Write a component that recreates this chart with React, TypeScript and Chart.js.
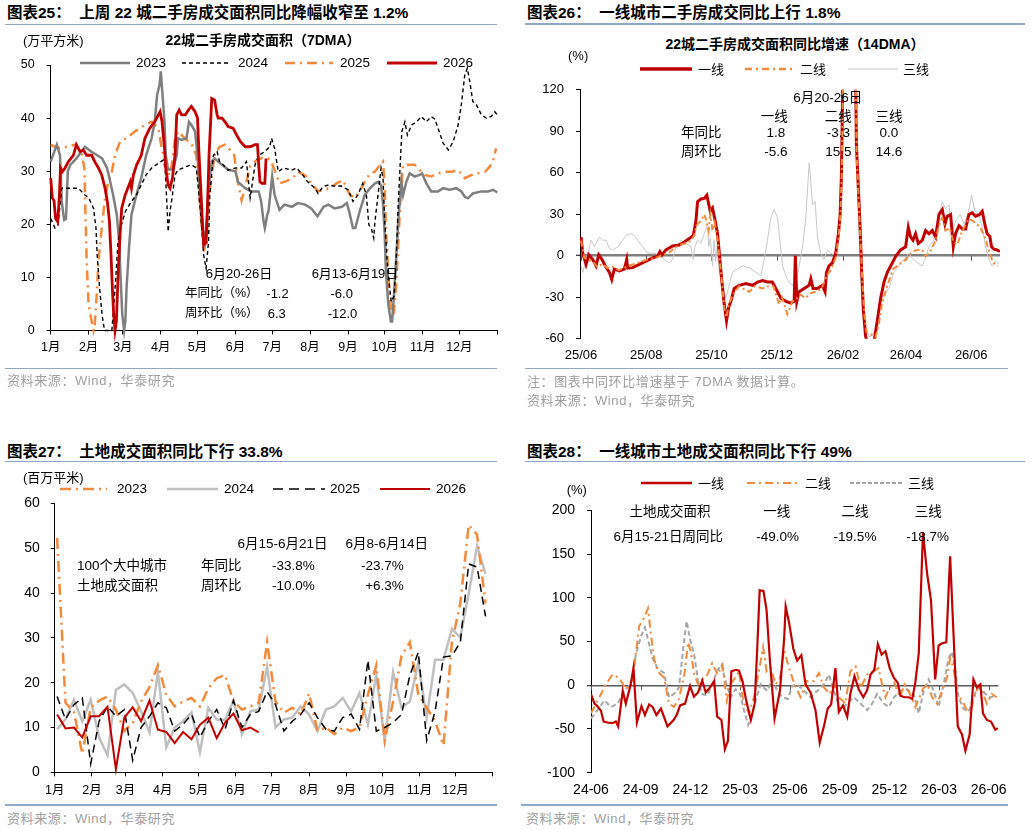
import React, { useEffect, useRef } from "react";
import { Chart, registerables } from "chart.js";

Chart.register(...registerables);

const FONT = "'Liberation Sans', Arial, 'Noto Sans CJK SC', sans-serif";
const RED = "#C00000";
const ORANGE = "#F28A3C";
const LINE_BLUE = "#8EA8C8";

// ---------- 图表25：22城二手房成交面积（7DMA），万平方米；[day of year, value]
const area2023: [number, number][] = [
  [0, 31.8], [5, 35], [7.6, 33], [9, 24.3], [11, 20.8], [12.5, 21], [14, 30], [16, 31.2], [21, 32.4], [28, 34.6],
  [33, 33.7], [38, 33], [42, 32.4], [46, 30.6], [48, 28.7], [51, 25.5], [54, 21.8], [56, 16.7], [57, 10.5], [58.5, 3],
  [60, 0], [61, 1.7], [62, 8], [64, 15.5], [66, 21.8], [70, 25.5], [74, 28.7], [78, 33], [82.5, 36.2], [85, 39.3],
  [87, 44.4], [89, 46.3], [90, 48.8], [91, 45.6], [93, 39.3], [94, 33], [96, 30.3], [100, 30.3], [103, 33], [104, 36.2],
  [107, 35.9], [111, 36.2], [113, 39.3], [115, 38.7], [118, 37.5], [120, 33], [122, 25.5], [124, 19.3], [126, 16.7], [127.5, 20.5],
  [129, 26.8], [131.6, 31.8], [134, 32.4], [140, 31.2], [145, 30.3], [151, 30], [153, 28], [159, 26.8], [164, 26.2], [170, 26.2],
  [172, 24.3], [174, 20.5], [175, 19.3], [177, 21.8], [178, 22.4], [181, 29], [183, 25.5], [187, 22.7], [191, 23.7], [197, 23.3],
  [202, 24], [208, 23.7], [213, 23], [218, 21.5], [223, 23.3], [227, 23.7], [232, 23], [238, 23.3], [242, 24], [244, 22.4],
  [247, 19.3], [249, 19.3], [252.5, 22.4], [256.6, 25.5], [261, 26.8], [265, 27.7], [267.5, 28], [270, 27.4], [271.6, 23.7], [273, 18],
  [274, 11.1], [276, 4.8], [278, 1.7], [279, 1.7], [280.6, 6.7], [282.5, 14.2], [284.4, 21.8], [286.6, 28], [288, 25.5], [290.7, 28],
  [293.4, 29.6], [297.5, 29], [301.6, 29.3], [303.5, 29.6], [307, 27.7], [311, 26.2], [316.6, 26.2], [320.7, 26.8], [326, 26.5], [331.6, 26.8],
  [335.6, 26.2], [338.4, 25.2], [341, 24.9], [345, 25.8], [352, 26.2], [357.5, 26.2], [361.5, 26.5], [365, 26],
];
const area2024: [number, number][] = [
  [0, 21.1], [3.5, 19.3], [6, 19.9], [9, 26.8], [14, 26.8], [22.6, 26.8], [28, 25.5], [31, 25], [35, 23], [37, 19.3],
  [38, 14.2], [40, 7.9], [42, 2.9], [44, 0], [50, 0], [53, 9.2], [55, 16.7], [57, 19.3], [61, 22.4], [66, 24.3],
  [70, 25.5], [74, 27.4], [78, 29.3], [82.5, 30.6], [88, 31.5], [92, 32.1], [93.5, 30.6], [95, 23.7], [96, 18.6], [97.5, 22.4],
  [99.5, 25.5], [101.6, 29.3], [104, 30.2], [110, 30.8], [115, 31.2], [119, 30.6], [120.7, 26.8], [123, 20.5], [125, 14.2], [127, 11.7],
  [129, 16.7], [130, 25.5], [133, 33], [136, 33.7], [138, 31.8], [141, 31.2], [145, 30.2], [151, 30.6], [156, 30.6], [160, 31.8],
  [163, 25], [167, 31.2], [170, 33], [175, 33.7], [179, 34.6], [180.5, 36.2], [183, 34.3], [186, 29.9], [190, 30.6], [197, 30.2],
  [201, 30.6], [205, 29.6], [210, 28], [216, 26.8], [218.5, 25.8], [222.6, 27.1], [227, 27.4], [232, 27.2], [237.5, 27.2], [243, 26.5],
  [247, 24.3], [251, 25.5], [255, 27.7], [258, 25.5], [260, 19.9], [262, 19.3], [264, 17.4], [265, 20.5], [267.5, 25.5], [270, 30.6],
  [271.6, 28.7], [273, 20.5], [275, 13], [277, 8], [278.4, 5.4], [280.6, 6.5], [282.5, 14.2], [284, 23.7], [286, 33], [287, 37.5],
  [289.5, 39.3], [291.5, 36.8], [295, 38.7], [299, 39.3], [303, 40.3], [307, 39.3], [311, 40.3], [314, 39.8], [316.6, 38.1], [320.7, 35.3],
  [325, 34], [329, 35.6], [333, 38.7], [335.6, 42.5], [338.4, 48.1], [340.5, 49.4], [342.5, 46.9], [345, 43.1], [348, 42.5], [352, 40.6],
  [356, 40], [360, 40.3], [363, 41.2], [365, 40.6],
];
const area2025: [number, number][] = [
  [0, 35], [3.5, 34.6], [8, 34.3], [13, 34.6], [20, 35], [25, 33.7], [27.5, 30.6], [28.6, 20.5], [29.4, 13], [31, 4.8],
  [33.5, 1.7], [35, 0], [36, 1], [37.6, 6.7], [39, 13], [41.7, 19.3], [44.4, 24.9], [47, 28], [50, 29.9], [52.6, 33],
  [56.7, 35.6], [62, 36.2], [69, 37.5], [77, 38.7], [82.6, 39.3], [88, 38.1], [90.7, 34.3], [93.5, 31.8], [96.7, 29.3], [99, 31.2],
  [101.6, 36.2], [104, 37.5], [107, 36.8], [111, 35.9], [115, 35.2], [119, 33], [121.5, 25.5], [123.4, 19.3], [125.6, 15.5], [127.5, 16.7],
  [129.4, 24.9], [131.6, 29.3], [134, 33], [138, 34.6], [142.5, 35], [146.6, 34], [150, 33], [153, 28], [156, 24.5], [159, 27],
  [163, 31], [168, 32], [173, 32.5], [177.6, 32.4], [180, 32], [187, 27.7], [191, 28], [198, 28.7], [202, 29.9], [208, 29.2],
  [213, 27.7], [218.5, 26.2], [223, 26.5], [228, 26.8], [233.5, 27.7], [239, 28.3], [244, 25.8], [248, 24.9], [252.5, 26.2], [256.6, 28],
  [261, 29.6], [265, 29.9], [269, 31.2], [271.6, 31.8], [273, 26.8], [274, 19.3], [275.7, 11.7], [277, 6.7], [279, 2.3], [280.6, 3.6],
  [282.5, 9.2], [284.4, 18], [286, 25.5], [288, 31.2], [292, 31.2], [297.5, 31.2], [301.6, 30.2], [305.7, 29.3], [311, 29], [316.6, 29.6],
  [322, 29.9], [327.5, 29.9], [333, 30.2], [338.4, 28.7], [344, 29.3], [349, 29.6], [355, 29.9], [359, 30.9], [361.5, 31.8], [364, 34.3],
];
const area2026: [number, number][] = [
  [0, 28.7], [1.4, 24.9], [2.7, 24.5], [4, 21.1], [5.7, 20.5], [7, 24.9], [8, 30.6], [9.5, 29.9], [11.7, 30.6], [14.4, 31.8],
  [18.5, 33], [21, 35], [24, 33.7], [26.7, 34], [29.4, 33], [33.5, 33], [36, 31.8], [39, 30.6], [41.7, 29.3], [44.4, 26.8],
  [46.3, 24.3], [48, 20.5], [49.3, 14.2], [50.4, 7.9], [51.5, 2.9], [52.6, 0], [53.7, 1.7], [55.3, 11.7], [56.7, 18], [58, 23],
  [60.8, 25.5], [63, 26.8], [65, 28], [66, 26.8], [67.6, 29.3], [70.3, 31.2], [74, 33], [77, 36.2], [81, 38.1], [85, 39.3],
  [89.4, 41.2], [91, 39.3], [93, 34.3], [94, 30.6], [96, 27.4], [97.5, 26.8], [99.5, 28.7], [101.6, 33], [103, 40.6], [105, 41.5],
  [107, 40.6], [110, 40.6], [112.5, 41.5], [115, 42.2], [118, 41.2], [120, 40], [121, 34.3], [122.6, 26.8], [124, 20.5], [125, 16.1],
  [127, 16.5], [128, 22.4], [129.4, 33], [131, 40.6], [131.6, 43.7], [134, 43.4], [136, 40.6], [137, 40], [140, 40], [142.5, 39.3],
  [145, 38.4], [149, 38.1], [152, 36.8], [155, 35.6], [159, 34.6], [163, 34.6], [167, 35], [169, 35], [170, 31.2], [171, 28],
  [172.5, 27.7], [175, 27.7], [176, 32.4],
];
const monthStartDays = [0, 31, 59, 90, 120, 151, 181, 212, 243, 273, 304, 334, 365];
const monthLabels = ["1月", "2月", "3月", "4月", "5月", "6月", "7月", "8月", "9月", "10月", "11月", "12月", ""];

// ---------- 图表26：22城二手房成交面积同比增速（14DMA），%；[days since 2025-06-01, value]
const tier1Yoy: [number, number][] = [
  [0, 13.5], [1.6, 1.9], [4.7, -6.3], [7.2, 0.7], [11, -2.8], [14, -7.4], [16.5, 0.7], [19.6, -2.8], [22.7, -7.4], [26.5, -12],
  [28.7, -17.2], [31.1, -9.7], [35.8, -10.9], [40.5, -9.7], [42.7, -2.8], [43.6, -9], [48.3, -8.6], [54.5, -6.3], [60.7, -3.9], [67, -1.6],
  [71.6, -0.4], [73.8, 3], [75.7, 0.5], [79.4, 4.2], [85.7, 7], [91.9, 7.7], [96.6, 10], [101.2, 12.4], [105, 14.7], [107.5, 25.2],
  [109, 39.1], [112.1, 41], [115.3, 41.4], [117.7, 43.8], [119.3, 37.9], [120.9, 32.1], [123, 34.5], [125.5, 25.2], [127.7, 15.9], [129.9, -2.8],
  [131.8, -19], [134, -35.3], [136.1, -47], [138, -37.6], [140.2, -33], [143.3, -23.7], [148, -21.4], [154.2, -20.2], [160.4, -21.4], [165.1, -19],
  [169.8, -17.9], [174.4, -19], [179, -19], [183.8, -26], [186.9, -30.7], [191.6, -33], [196.3, -34.2], [199.4, -33], [200.5, 0], [201.9, -33],
  [204, -26], [208.7, -23.7], [213.4, -21.4], [215, -16.7], [217.1, -23.7], [221.2, -23.7], [225.8, -21.4], [228.3, -26], [229.6, -12], [232, -7.4],
  [235.2, -5.1], [238.3, 1.9], [240.8, 15.9], [242.4, 29.8], [243.6, 57.7], [244.5, 104], [245.5, 200], [256, 200], [257.6, 81], [259.5, 48.4],
  [261, 22.8], [262.6, -12], [264.2, -40], [266.3, -58.6], [268.8, -65], [274, -63], [277.2, -47], [280.3, -30.7], [283.5, -19], [286.6, -12],
  [289.7, -7.4], [294.4, -0.4], [299, 4.2], [303.7, 6.5], [306.2, 20.5], [308.4, 13.5], [310.6, 11.2], [313, 15.9], [315.5, 8.9], [319.3, 11.2],
  [322.4, 18.2], [325.5, 15.9], [328.6, 18.2], [331.8, 13.5], [334.9, 29.8], [338, 33.3], [340.5, 22.8], [342.6, 28.6], [345.8, 29.8], [348.3, 6.5],
  [350.4, 15.9], [353.6, 21.7], [356.7, 19.4], [359.8, 19.4], [362.9, 29.8], [366, 31], [369.1, 28.6], [372.9, 29.8], [375.4, 32.1], [377.8, 22.8],
  [380, 15.9], [382.5, 14], [384.1, 6.5], [386.3, 4.7], [389.4, 4.2], [391.9, 3],
];
const tier2Yoy: [number, number][] = [
  [0, 11], [3.1, -1.6], [7, -3], [11, -4], [15, -8], [20, -6], [25, -9], [30, -8], [35, -10.5], [40, -9],
  [45, -7], [50, -6], [55, -4.5], [61, -3], [67, -2], [72, -1], [77, 1], [82, 2], [88, 6], [93, 8],
  [98, 9], [103, 11], [106, 15], [108, 22], [112.1, 25.2], [115.3, 29.8], [117, 26], [119.3, 18.2], [121, 29.8], [123, 18.2],
  [125, 24], [127.7, 12], [130, -5], [132, -20], [134, -38], [136.1, -44.6], [138, -36], [141, -30], [144, -26], [148, -22],
  [152, -24], [157.3, -26], [163, -22], [169.8, -23.7], [175, -22], [180, -22], [185.3, -35.3], [188, -30], [193, -42.3], [197.8, -33],
  [201, -32], [205, -28], [210, -30.7], [215, -27], [220, -26], [225, -24], [230, -14], [234, -10], [238, -2], [240.8, 12],
  [242.4, 25], [243.8, 55], [244.7, 100], [245.6, 200], [256.3, 200], [257.8, 75], [259.8, 40], [261.5, 10], [263, -15], [265, -42],
  [267, -55], [270, -56.3], [275.7, -58.6], [278.5, -50], [281.5, -35], [286.6, -21.4], [292, -9.7], [298, -6], [303.7, -2.8], [308, 1],
  [313, 4], [319.3, 4.2], [322.4, -0.4], [326, 2], [331.8, 11.2], [334.9, 22], [338, 27.5], [341, 18.2], [345, 20], [348.3, 10],
  [352, 8], [356.7, 18.2], [362.9, 26.7], [369.1, 24], [373.8, 20], [377.8, 13.5], [382.4, 1.9], [385.5, -5.1], [390, -7.4],
];
const tier3Yoy: [number, number][] = [
  [0, -7.4], [1.6, -12], [4.7, -3], [9.3, 11.2], [12.5, 6.5], [17.1, 13.5], [20.3, 11.2], [23.4, 11.2], [26, 6], [29.6, 4.2],
  [34.3, 6.5], [39, 11.2], [42, 14.7], [46.7, 15.9], [49.8, 14.7], [53, 11.2], [57.6, 6.5], [62.3, 1.9], [67, 1.9], [73.2, 0.7],
  [77.9, -2.8], [82.5, -5.1], [85.7, -2.8], [88.8, 6.5], [93.5, 11.2], [98.1, 8.9], [102.8, 6.5], [105, -2.8], [106.5, 6.5], [109, 11.2],
  [112, 8.9], [115.3, 15.9], [118.4, 22.8], [119.5, 6.5], [121, 13], [123, -7.4], [124.5, 11.2], [126, -4], [127.5, 8], [129.3, -12],
  [132.4, -21.4], [135.5, -30.7], [138.6, -21.4], [141.7, -12], [146.4, -9.7], [151, -7.4], [157.3, -8.6], [163.5, -12], [168.2, -14.4], [171.3, -2.8],
  [174.4, 11.2], [177.6, 27.5], [180.7, 33.3], [183.8, 27.5], [186, 11.2], [188.5, -7.4], [191.6, -14.4], [194.7, -19], [197.8, -21.4], [202.5, -14.4],
  [207.2, 6.5], [210.3, 27.5], [213.4, 67], [215, 53], [216.5, 36.8], [219, 39.1], [221.2, 13.5], [224.3, 1.9], [227.4, -2.8], [230.5, 4.2],
  [233.6, 1.9], [236.7, 0.7], [239.9, 6.5], [242, 25], [243.5, 60], [244.5, 200], [256.5, 200], [258, 60], [260, 20], [263.2, -35.3],
  [265.7, -49.3], [269.4, -58.6], [272.6, -57.5], [275.7, -51.6], [278.8, -35.3], [283.5, -28.3], [288.1, -23.7], [292.8, -12], [297.5, -7.4], [302.1, -2.8],
  [306.8, 1.9], [310, -2], [314.6, -5.1], [319.3, -7.4], [322, -2], [325.5, 6.5], [330, 11], [334.9, 29.8], [338, 39.1], [341, 34],
  [344.2, 36.8], [347.3, 15.9], [350.4, 25.2], [355, 29.8], [358.2, 22.8], [362, 30], [365.4, 43.8], [368.5, 32.1], [372.2, 29.8], [375.4, 20.5],
  [378.5, 6.5], [381.6, -2.8], [384.7, -7.4], [387.8, -3.9], [391, -6],
];
const yoyTickDays = [0, 61, 122, 183, 245, 304, 365];
const yoyTickLabels = ["25/06", "25/08", "25/10", "25/12", "26/02", "26/04", "26/06"];

// ---------- 图表27：100个大中城市土地成交面积（周度），百万平米
const land2023 = [
  52.3, 15.5, 13.5, 4.1, 14.5, 16, 16.9, 14, 9.2, 11, 15.8, 19, 23.9, 17.3, 14.7, 15.8, 16.6, 14.7, 18.7, 21,
  21.7, 15.8, 14, 14.7, 15.5, 29, 15.8, 13.3, 14.4, 12.9, 17.6, 9.2, 10, 8.5, 10, 9.2, 10, 17.3, 23.9, 7.1,
  15.8, 26, 29, 17.3, 14.4, 11.4, 6, 29, 37.7, 55.2, 53, 37.7,
];
const land2024 = [
  9.6, 11.8, 16.2, 11.4, 16.2, 7.8, 3.8, 18.4, 19.6, 17.7, 13.6, 8.9, 22.4, 5.6, 10, 11.4, 13.4, 4.5, 14.4, 11.8,
  11.7, 16, 8.5, 13.6, 14, 23.5, 10, 11.8, 12.2, 14.7, 12.9, 9.2, 14, 14.7, 16.6, 13.6, 17.7, 10.7, 21.7, 7.1,
  22.3, 14.5, 15.8, 24.6, 12.2, 25.1, 25.1, 32, 30.1, 39.9, 50.5, 44.3,
];
const land2025 = [
  16.9, 11.8, 15.1, 16.6, 1.9, 11.4, 14.7, 12.5, 14, 2.7, 10, 12.5, 15.5, 14.4, 9.2, 10.7, 12.9, 7.8, 11.4, 14,
  9.6, 16, 10, 12.9, 13.6, 18, 15.1, 9.2, 11.4, 12.9, 15.5, 12.2, 9.6, 9.2, 12.2, 13, 9.6, 25, 9.2, 10,
  11.1, 12.9, 21.7, 26.8, 7.1, 13.6, 25.7, 26, 29, 46.5, 45.8, 34.8,
];
const land2026 = [
  12.9, 9.8, 10, 7.8, 12.5, 12.5, 14.6, 0.7, 12.2, 14.5, 11.4, 16, 9.5, 9, 6.5, 9, 7.4, 10.6, 12.2, 7.6,
  11.1, 13.1, 9.4, 10, 8.9,
];
// 第 k 周对应的年内天数（周中）
const weekToDay = (k: number) => 2 + 7 * k;

// ---------- 图表28：一线/二线/三线城市土地成交面积同比，%；[weeks since 2024-06, value]
const tier1Land: [number, number][] = [
  [0, -10], [0.9, -21], [1.7, -24], [2.6, -29], [3.3, -41.5], [4.3, -42.6], [5.6, -43.4], [6.5, -41.5], [7.1, -47], [8.3, -6.3],
  [9.1, -21], [10.4, 1.1], [11.1, 19.6], [12, -42.6], [13.2, -24], [14.1, -34], [15.2, -21.9], [16.1, -24.8], [17.1, -34], [18.3, -26.7],
  [20, -47], [21.6, -39.7], [22.4, -34], [23.3, -23], [24.6, -21], [25.9, -0.7], [26.9, -13], [28, -8.2], [29.1, 5.5], [30, -8.2],
  [31.1, -2.6], [32.2, 4.8], [33, -36], [34.1, -39.7], [35, -73], [35.8, -63.7], [36.7, 15.9], [37.8, 17.7], [38.7, 16.6], [39.6, 4.8],
  [40.5, -15.6], [41.8, -39.7], [42.8, -21], [43.5, 45.5], [44.1, 108.5], [45.1, 107.8], [45.9, 86.3], [46.8, 27], [48, -37.8], [49.4, -6.3],
  [50.5, 53], [50.9, 90], [51.8, 71.5], [52.9, 41.8], [53.9, 28.1], [55, 34.4], [56.1, 1.1], [57.4, -8.2], [58.7, -28.5], [59.8, -65.6],
  [60.9, -47], [61.9, -26.7], [62.8, -21.9], [63.9, 19.6], [64.8, -30.4], [65.9, -23], [67, -36], [67.8, -10], [68.9, 10.4], [70, -4.5],
  [71.2, -13.7], [72.2, -5.6], [73.1, 12.2], [74.1, 17.7], [75, 47], [76, 35], [77, 38.9], [78.1, 19.6], [79.2, 8.5], [80.2, 3],
  [80.9, -11.9], [82, -13.7], [83.1, -13.7], [84, -15.6], [84.8, 3], [85.7, 36.3], [86.8, 175], [87.9, 127], [88.9, 97.4], [90, 6.6],
  [90.9, 45.5], [91.8, 48.1], [92.9, 49.2], [93.9, 147.4], [95, 38.1], [95.9, -47], [97, -56.3], [97.9, -74.8], [99, -56.3], [100, 6.6],
  [100.9, -2.6], [101.8, 1.1], [102.5, -32.2], [103.5, -39.7], [104.6, -41.5], [105.7, -50.8], [106.4, -49],
];
const tier2Land: [number, number][] = [
  [0, -32], [2.2, -13.7], [3.9, 1.1], [5.6, 12.2], [7.4, 8.5], [9.1, -4.5], [10.9, 6.6], [12.6, 67.7], [13.9, 77], [14.9, 88],
  [15.6, 60.3], [16.5, 30.7], [17.4, 15.9], [19.1, 8.5], [20.4, -21], [21.7, -24.8], [23, -15.6], [24.4, 12.2], [25.4, 49.2], [26.1, 38.1],
  [27, 12.2], [28, 1.1], [29.1, 6.6], [30.4, 12.2], [31.7, 25.2], [33.1, 12.2], [34.4, 23.3], [35.5, -17.4], [36.5, 1.1], [37.6, 8],
  [38.7, 15.9], [39.8, -17.4], [41.3, -32.2], [42.6, -13.7], [43.9, 15.9], [45, 43.7], [45.9, 15.9], [47, 19.6], [48.3, 1.1], [49.4, 8.5],
  [50.5, 40], [51.8, 19.6], [53.2, 1.1], [54.8, -13.7], [56.4, 4.8], [58.3, 4.8], [59.6, 14], [60.9, -2.6], [62.5, -10], [63.5, 1.1],
  [64.8, -13.7], [66.5, -21], [67.8, 15.9], [69.2, 21.4], [70.5, -2.6], [72.2, 12.2], [73.8, 15.9], [75.2, 19.6], [76.1, 1.1], [77, -13.7],
  [78.1, -2.6], [79.3, 3], [80.7, -13.7], [82, 1.1], [83.4, -10], [84.8, -24.8], [85.9, -13.7], [87, -2.6], [88, 1], [89.2, -13.7],
  [90.5, -21], [91.8, -6.3], [93.1, 8.5], [93.9, 30.7], [94.8, 19.6], [95.7, -10], [97, -17.4], [98.3, -28.5], [99.2, -32.2], [100.2, -13.7],
  [101.3, -0.7], [102.2, -6.3], [103.5, -21], [104.8, -10], [106.1, -13.7],
];
const tier3Land: [number, number][] = [
  [0, -38], [1.7, -28.5], [3.5, -17.4], [5.2, -24.8], [7, -21], [8.7, -6.3], [10.4, 1.1], [11.7, 34.4], [13.1, 56.6], [14.1, 66],
  [15.1, 49.2], [16.1, 30.7], [17.4, 19.6], [19.1, 14], [20.4, -13.7], [21.7, -10], [23, -2.6], [24.4, 53], [25, 73.3], [25.9, 53],
  [27, 34.4], [28, 4.8], [29.1, -10], [30.4, -11.9], [31.7, 1.1], [33.1, 17.7], [34.1, 23.3], [35.2, 4.8], [36.5, -13.7], [37.8, -4.5],
  [39, -10], [40, -28.5], [41.1, -45.2], [42.2, -32.2], [43.3, -13.7], [44.4, 1.1], [45.2, -3], [46.1, -6.3], [47.4, 6.6], [48.7, -6.3],
  [50, -13.7], [51.5, -15.6], [52.6, -0.7], [53.9, 1.1], [55.7, -6.3], [57.4, -13.7], [59.2, -6.3], [60.9, 1.1], [62.2, 12.2], [63.5, -6.3],
  [65.2, -28.5], [67, -21], [68.7, -13.7], [70.5, -21], [72.2, -28.5], [73.5, -21], [74.8, -10], [76.6, -21], [77.9, -24.8], [79.2, -13.7],
  [80.9, -6.3], [82.6, -4.5], [84.4, -10], [85.7, -32.2], [87, -6.3], [88.3, 6.6], [89.6, -6.3], [90.9, -24.8], [92.2, 1.1], [93.5, 30.7],
  [94.4, 38.1], [95.3, 15.9], [96.1, -13.7], [97.4, -26.7], [98.7, -30.4], [99.6, -21], [100.7, -6.3], [101.8, -2.6], [103.1, -10], [104.4, -13.7],
  [106.1, -11.9],
];
const landTickWeeks = [0, 13, 26, 39, 52, 65, 78, 91, 104];
const landTickLabels = ["24-06", "24-09", "24-12", "25-03", "25-06", "25-09", "25-12", "26-03", "26-06"];

// ---------- chart helpers
type Box = { left: number; top: number; width: number; height: number };
type Area = { left: number; top: number; right: number; bottom: number };

const pts = (rows: [number, number][]) => rows.map(([x, y]) => ({ x, y }));

function line(data: any[], color: string, width: number, order: number, dash: number[] = [], clip: any = undefined) {
  const ds: any = {
    data,
    borderColor: color,
    backgroundColor: color,
    borderWidth: width,
    borderDash: dash,
    pointRadius: 0,
    tension: 0,
    fill: false,
    order,
  };
  if (clip !== undefined) ds.clip = clip;
  return ds;
}

function xAxis(
  box: Box, area: Area, min: number, max: number, ticks: number[], labels: string[],
  size: number, padding: number, withAxisLine: boolean,
) {
  return {
    type: "linear",
    min,
    max,
    afterBuildTicks: (s: any) => {
      s.ticks = ticks.map((v) => ({ value: v }));
    },
    afterFit: (s: any) => {
      s.height = box.top + box.height - area.bottom;
    },
    ticks: {
      autoSkip: false,
      maxRotation: 0,
      minRotation: 0,
      padding,
      color: "#000",
      font: { family: FONT, size },
      callback: (_v: any, i: number) => labels[i] ?? "",
    },
    grid: withAxisLine
      ? { display: true, drawOnChartArea: false, drawTicks: true, tickLength: 4, color: "#000", tickColor: "#000", lineWidth: 1 }
      : { display: false, drawTicks: false, tickLength: 0 },
    border: { display: withAxisLine, color: "#000", width: 1 },
  };
}

function yAxis(
  box: Box, area: Area, min: number, max: number, step: number, size: number, padding: number,
  zero?: { color: string; width: number },
) {
  return {
    min,
    max,
    afterFit: (s: any) => {
      s.width = area.left - box.left;
    },
    ticks: { stepSize: step, padding, color: "#000", font: { family: FONT, size } },
    grid: zero
      ? {
          drawOnChartArea: true,
          color: (c: any) => (c.tick && c.tick.value === 0 ? zero.color : "rgba(0,0,0,0)"),
          lineWidth: (c: any) => (c.tick && c.tick.value === 0 ? zero.width : 1),
          tickColor: "#000",
          tickWidth: 1,
          tickLength: 4,
        }
      : { drawOnChartArea: false, color: "#000", tickColor: "#000", tickLength: 4, lineWidth: 1 },
    border: { display: true, color: "#000", width: 1 },
  };
}

// short marks hanging below the zero line at each date tick
function zeroTicks(ticks: number[], color: string) {
  return {
    id: "zeroTicks",
    beforeDatasetsDraw(chart: any) {
      const { ctx, scales } = chart;
      const y0 = scales.y.getPixelForValue(0);
      ctx.save();
      ctx.strokeStyle = color;
      ctx.lineWidth = 1;
      ticks.forEach((t) => {
        const px = Math.round(scales.x.getPixelForValue(t)) + 0.5;
        ctx.beginPath();
        ctx.moveTo(px, y0);
        ctx.lineTo(px, y0 + 5);
        ctx.stroke();
      });
      ctx.restore();
    },
  };
}

function ChartCanvas({ box, area, make }: { box: Box; area: Area; make: () => any }) {
  const ref = useRef<HTMLCanvasElement>(null);
  useEffect(() => {
    const cfg = make();
    cfg.options = {
      responsive: false,
      maintainAspectRatio: false,
      devicePixelRatio: 1,
      animation: false,
      events: [],
      layout: {
        padding: { left: 0, bottom: 0, top: area.top - box.top, right: box.left + box.width - area.right },
      },
      plugins: { legend: { display: false }, tooltip: { enabled: false }, title: { display: false } },
      ...cfg.options,
    };
    const chart = new Chart(ref.current as HTMLCanvasElement, cfg);
    return () => chart.destroy();
  }, []);
  return (
    <canvas
      ref={ref}
      width={box.width}
      height={box.height}
      style={{ position: "absolute", left: box.left, top: box.top, width: box.width, height: box.height }}
    />
  );
}

// ---------- text & decoration helpers
function Txt(props: {
  x: number; y: number; size?: number; bold?: boolean; align?: "left" | "center" | "right";
  color?: string; spacing?: number; children: React.ReactNode;
}) {
  const { x, y, size = 13, bold = false, align = "left", color = "#000", spacing = 0, children } = props;
  const tx = align === "center" ? "-50%" : align === "right" ? "-100%" : "0";
  return (
    <div
      style={{
        position: "absolute",
        left: x,
        top: y,
        transform: `translate(${tx}, -50%)`,
        fontFamily: FONT,
        fontSize: size,
        fontWeight: bold ? 700 : 400,
        color,
        whiteSpace: "pre",
        lineHeight: 1,
        letterSpacing: spacing,
      }}
    >
      {children}
    </div>
  );
}

function Rule({ x1, x2, y }: { x1: number; x2: number; y: number }) {
  return <div style={{ position: "absolute", left: x1, top: y - 0.75, width: x2 - x1, height: 1.5, background: LINE_BLUE }} />;
}

function Swatch({ x1, x2, y, color, width, dash }: { x1: number; x2: number; y: number; color: string; width: number; dash?: string }) {
  const w = x2 - x1;
  return (
    <svg style={{ position: "absolute", left: x1, top: y - 5 }} width={w} height={10}>
      <line x1={0} y1={5} x2={w} y2={5} stroke={color} strokeWidth={width} strokeDasharray={dash} />
    </svg>
  );
}

// ---------- panels
const box1: Box = { left: 0, top: 45, width: 512, height: 325 };
const area1: Area = { left: 50.7, top: 65, right: 497.3, bottom: 330.5 };
const box2: Box = { left: 515, top: 70, width: 515, height: 300 };
const area2: Area = { left: 580, top: 80, right: 1000, bottom: 338.7 };
const box3: Box = { left: 0, top: 484, width: 512, height: 319 };
const area3: Area = { left: 54.7, top: 498.3, right: 492.7, bottom: 772.3 };
const box4: Box = { left: 515, top: 490, width: 515, height: 313 };
const area4: Area = { left: 591, top: 502.7, right: 998.3, bottom: 772.7 };

const makeResale = () => ({
  type: "line",
  data: {
    datasets: [
      line(pts(area2023), "#7F7F7F", 2.5, 2, [], false),
      line(pts(area2024), "#000000", 1.4, 1, [4, 3], false),
      line(pts(area2025), ORANGE, 2.5, 3, [10, 5, 2, 5], false),
      line(pts(area2026), RED, 2.8, 0, [], false),
    ],
  },
  options: {
    scales: {
      x: xAxis(box1, area1, 0, 365, monthStartDays, monthLabels, 12.5, 6, true),
      y: yAxis(box1, area1, 0, 50, 10, 12.5, 12),
    },
  },
});

const makeResaleYoy = () => ({
  type: "line",
  data: {
    datasets: [
      line(pts(tier1Yoy), RED, 3, 1),
      line(pts(tier2Yoy), ORANGE, 2, 0, [6, 3, 2, 3]),
      line(pts(tier3Yoy), "#C8C8C8", 1, 2),
    ],
  },
  options: {
    scales: {
      x: xAxis(box2, area2, -1, 392, yoyTickDays, yoyTickLabels, 13, 9, false),
      y: yAxis(box2, area2, -60, 120, 30, 13, 12, { color: "#7F7F7F", width: 2.5 }),
    },
  },
  plugins: [zeroTicks(yoyTickDays, "#595959")],
});

const makeLand = () => ({
  type: "line",
  data: {
    datasets: [
      line(land2023.map((v, k) => ({ x: weekToDay(k), y: v })), ORANGE, 2.5, 2, [11, 5, 2, 5], false),
      line(land2024.map((v, k) => ({ x: weekToDay(k), y: v })), "#BFBFBF", 2.5, 3, [], false),
      line(land2025.map((v, k) => ({ x: weekToDay(k), y: v })), "#000000", 1.5, 1, [8, 5], false),
      line(land2026.map((v, k) => ({ x: weekToDay(k), y: v })), RED, 2, 0, [], false),
    ],
  },
  options: {
    scales: {
      x: xAxis(box3, area3, 0, 365, monthStartDays, monthLabels, 12.5, 7, true),
      y: yAxis(box3, area3, 0, 60, 10, 14, 11),
    },
  },
});

const makeLandTier = () => ({
  type: "line",
  data: {
    datasets: [
      line(pts(tier1Land), RED, 2.2, 0),
      line(pts(tier2Land), ORANGE, 2, 1, [8, 4, 2, 4]),
      line(pts(tier3Land), "#A6A6A6", 2, 2, [5, 3]),
    ],
  },
  options: {
    scales: {
      x: xAxis(box4, area4, 0, 106.5, landTickWeeks, landTickLabels, 14, 9, false),
      y: yAxis(box4, area4, -100, 200, 50, 14, 12, { color: "#595959", width: 1.5 }),
    },
  },
  plugins: [zeroTicks(landTickWeeks, "#595959")],
});

const SRC = "资料来源：Wind，华泰研究";
const SRC_STYLE = { size: 13, color: "#A0A0A0", spacing: 0.6 };

export default function App() {
  return (
    <div style={{ position: "absolute", left: 0, top: 0, width: 1031, height: 830, background: "#fff", overflow: "hidden" }}>
      {/* 图表25 */}
      <Txt x={7} y={13} size={15.5} bold>{"图表25：  上周 22 城二手房成交面积同比降幅收窄至 1.2%"}</Txt>
      <Rule x1={5} x2={497} y={24.3} />
      <ChartCanvas box={box1} area={area1} make={makeResale} />
      <Txt x={263} y={40} size={14} bold align="center">22城二手房成交面积（7DMA）</Txt>
      <Txt x={23} y={40} size={13}>(万平方米)</Txt>
      <Swatch x1={80} x2={130} y={63} color="#7F7F7F" width={2.5} />
      <Txt x={136} y={63} size={13.5}>2023</Txt>
      <Swatch x1={182} x2={230} y={63} color="#000" width={1.4} dash="4 3" />
      <Txt x={238} y={63} size={13.5}>2024</Txt>
      <Swatch x1={285} x2={333} y={63} color={ORANGE} width={2.5} dash="10 5 2 5" />
      <Txt x={340} y={63} size={13.5}>2025</Txt>
      <Swatch x1={387} x2={437} y={63} color={RED} width={3} />
      <Txt x={443} y={63} size={13.5}>2026</Txt>
      <Txt x={239} y={272.7} size={13} align="center">6月20-26日</Txt>
      <Txt x={355} y={272.7} size={13} align="center">6月13-6月19日</Txt>
      <Txt x={185} y={293.3} size={12.5}>年同比（%）</Txt>
      <Txt x={277.5} y={293.3} size={13} align="center">-1.2</Txt>
      <Txt x={341.7} y={293.3} size={13} align="center">-6.0</Txt>
      <Txt x={185} y={313.3} size={12.5}>周环比（%）</Txt>
      <Txt x={276.7} y={313.3} size={13} align="center">6.3</Txt>
      <Txt x={342.5} y={313.3} size={13} align="center">-12.0</Txt>
      <Rule x1={5} x2={497} y={368.3} />
      <Txt x={7} y={380} {...SRC_STYLE}>{SRC}</Txt>

      {/* 图表26 */}
      <Txt x={527} y={13} size={15.5} bold>{"图表26：  一线城市二手房成交同比上行 1.8%"}</Txt>
      <Rule x1={525} x2={1025} y={24} />
      <ChartCanvas box={box2} area={area2} make={makeResaleYoy} />
      <Txt x={795} y={44} size={14} bold align="center">22城二手房成交面积同比增速（14DMA）</Txt>
      <Txt x={568} y={55} size={13}>(%)</Txt>
      <Swatch x1={640} x2={692} y={69} color={RED} width={3.5} />
      <Txt x={698} y={69} size={13}>一线</Txt>
      <Swatch x1={745} x2={795} y={69} color={ORANGE} width={2.5} dash="7 4 2 4" />
      <Txt x={800} y={69} size={13}>二线</Txt>
      <Swatch x1={848} x2={898} y={69} color="#C8C8C8" width={1} />
      <Txt x={903} y={69} size={13}>三线</Txt>
      <Txt x={827.7} y={98.3} size={13.5} align="center">6月20-26日</Txt>
      <Txt x={774.2} y={116.7} size={13.5} align="center">一线</Txt>
      <Txt x={838.3} y={116.7} size={13.5} align="center">二线</Txt>
      <Txt x={889} y={116.7} size={13.5} align="center">三线</Txt>
      <Txt x={701.2} y={133.3} size={13.5} align="center">年同比</Txt>
      <Txt x={776} y={133.3} size={13.5} align="center">1.8</Txt>
      <Txt x={838.3} y={133.3} size={13.5} align="center">-3.3</Txt>
      <Txt x={889} y={133.3} size={13.5} align="center">0.0</Txt>
      <Txt x={701.2} y={151.5} size={13.5} align="center">周环比</Txt>
      <Txt x={776} y={151.5} size={13.5} align="center">-5.6</Txt>
      <Txt x={838.3} y={151.5} size={13.5} align="center">15.5</Txt>
      <Txt x={889} y={151.5} size={13.5} align="center">14.6</Txt>
      <Rule x1={525} x2={1008} y={368.3} />
      <Txt x={527} y={381} {...SRC_STYLE}>注：图表中同环比增速基于 7DMA 数据计算。</Txt>
      <Txt x={527} y={400} {...SRC_STYLE}>{SRC}</Txt>

      {/* 图表27 */}
      <Txt x={7} y={451.7} size={15.5} bold>{"图表27：  土地成交面积同比下行 33.8%"}</Txt>
      <Rule x1={5} x2={497} y={461.7} />
      <ChartCanvas box={box3} area={area3} make={makeLand} />
      <Txt x={23} y={476.7} size={13}>(百万平米)</Txt>
      <Swatch x1={60} x2={107} y={489.3} color={ORANGE} width={2.5} dash="11 5 2 5" />
      <Txt x={117} y={489.3} size={13.5}>2023</Txt>
      <Swatch x1={167} x2={218} y={489.3} color="#BFBFBF" width={2.5} />
      <Txt x={224} y={489.3} size={13.5}>2024</Txt>
      <Swatch x1={273} x2={325} y={489.3} color="#000" width={1.5} dash="10 6" />
      <Txt x={330} y={489.3} size={13.5}>2025</Txt>
      <Swatch x1={380} x2={430} y={489.3} color={RED} width={2} />
      <Txt x={436} y={489.3} size={13.5}>2026</Txt>
      <Txt x={282.5} y={544.3} size={13.5} align="center">6月15-6月21日</Txt>
      <Txt x={386.7} y={544.3} size={13.5} align="center">6月8-6月14日</Txt>
      <Txt x={77} y={566} size={13.5}>100个大中城市</Txt>
      <Txt x={77} y={586} size={13.5}>土地成交面积</Txt>
      <Txt x={201} y={565.5} size={13.5}>年同比</Txt>
      <Txt x={201} y={586} size={13.5}>周环比</Txt>
      <Txt x={293.3} y={565.5} size={13.5} align="center">-33.8%</Txt>
      <Txt x={293.3} y={586} size={13.5} align="center">-10.0%</Txt>
      <Txt x={382.3} y={565.5} size={13.5} align="center">-23.7%</Txt>
      <Txt x={384.5} y={586} size={13.5} align="center">+6.3%</Txt>
      <Rule x1={5} x2={497} y={805} />
      <Txt x={7} y={818.3} {...SRC_STYLE}>{SRC}</Txt>

      {/* 图表28 */}
      <Txt x={527} y={451.7} size={15.5} bold>{"图表28：  一线城市土地成交面积同比下行 49%"}</Txt>
      <Rule x1={525} x2={1025} y={461.7} />
      <ChartCanvas box={box4} area={area4} make={makeLandTier} />
      <Txt x={566.7} y={489.3} size={13}>(%)</Txt>
      <Swatch x1={641} x2={692} y={483.3} color={RED} width={2.5} />
      <Txt x={698} y={483.3} size={13}>一线</Txt>
      <Swatch x1={747} x2={798} y={483.3} color={ORANGE} width={2} dash="8 4 2 4" />
      <Txt x={805} y={483.3} size={13}>二线</Txt>
      <Swatch x1={850} x2={902} y={483.3} color="#A6A6A6" width={2} dash="4 2" />
      <Txt x={908} y={483.3} size={13}>三线</Txt>
      <Txt x={670} y={511.7} size={13.5} align="center">土地成交面积</Txt>
      <Txt x={776.7} y={511.7} size={13.5} align="center">一线</Txt>
      <Txt x={855} y={511.7} size={13.5} align="center">二线</Txt>
      <Txt x={928.3} y={511.7} size={13.5} align="center">三线</Txt>
      <Txt x={668.3} y={536.7} size={13.5} align="center">6月15-21日周同比</Txt>
      <Txt x={777.7} y={536.7} size={13.5} align="center">-49.0%</Txt>
      <Txt x={855} y={536.7} size={13.5} align="center">-19.5%</Txt>
      <Txt x={927.7} y={536.7} size={13.5} align="center">-18.7%</Txt>
      <Rule x1={521} x2={1008} y={805} />
      <Txt x={526} y={818} {...SRC_STYLE}>{SRC}</Txt>
    </div>
  );
}
